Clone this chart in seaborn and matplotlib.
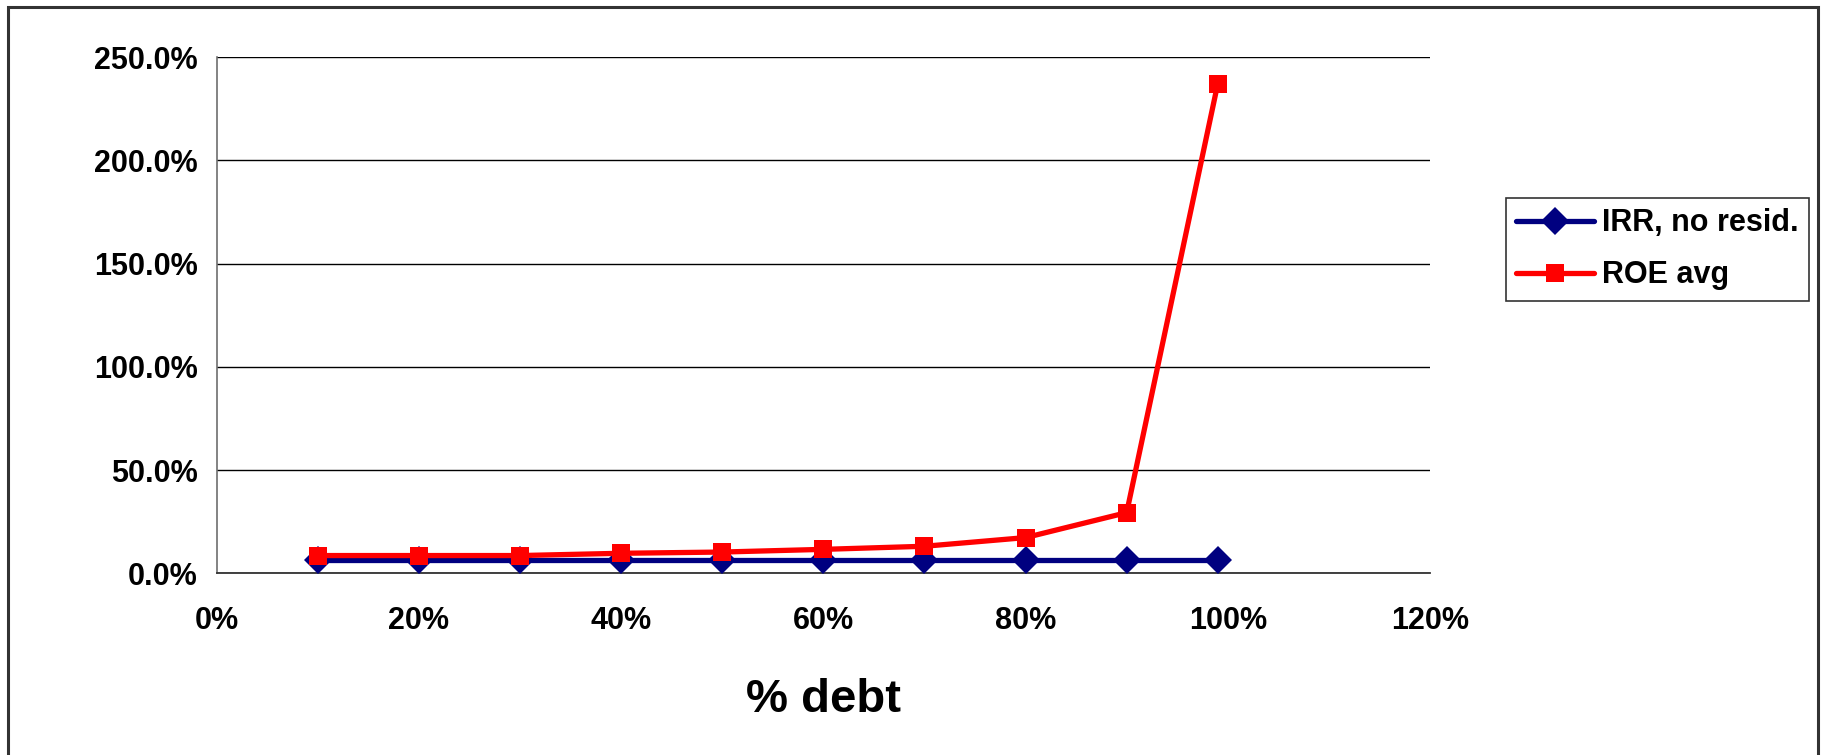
import matplotlib
matplotlib.use("Agg")
import matplotlib.pyplot as plt
from matplotlib.patches import Rectangle
from matplotlib.ticker import PercentFormatter, MultipleLocator
import pandas as pd
import seaborn as sns

# Share of debt financing (%) and the resulting returns (%)
debt_pct = [10, 20, 30, 40, 50, 60, 70, 80, 90, 99]
irr_no_resid = [6.6, 6.6, 6.6, 6.6, 6.6, 6.6, 6.6, 6.6, 6.6, 6.6]
roe_avg = [8.6, 8.6, 8.6, 9.7, 10.3, 11.6, 13.1, 17.3, 29.4, 237.0]

series_names = ["IRR, no resid.", "ROE avg"]
series_colors = ["#000080", "#FF0000"]
x_label = "% debt"

sns.set_style("white")
plt.rcParams["font.family"] = ["Liberation Sans", "DejaVu Sans"]
plt.rcParams["font.weight"] = "bold"
plt.rcParams["text.color"] = "black"
plt.rcParams["axes.labelcolor"] = "black"
plt.rcParams["xtick.labelcolor"] = "black"
plt.rcParams["ytick.labelcolor"] = "black"

W, H = 1822, 755
fig = plt.figure(figsize=(W / 100, H / 100), dpi=100)
left, right, top, bottom = 216.7, 1430.0, 57.3, 573.3
ax = fig.add_axes([left / W, 1 - bottom / H, (right - left) / W, (bottom - top) / H])

df = pd.DataFrame({"debt": debt_pct, "irr": irr_no_resid, "roe": roe_avg})

sns.lineplot(data=df, x="debt", y="irr", ax=ax, color=series_colors[0],
             linewidth=3.8, marker="D", markersize=14.5,
             markeredgecolor=series_colors[0], markeredgewidth=0,
             label=series_names[0], zorder=3)
sns.lineplot(data=df, x="debt", y="roe", ax=ax, color=series_colors[1],
             linewidth=3.8, marker="s", markersize=12.5,
             markeredgecolor=series_colors[1], markeredgewidth=0,
             label=series_names[1], zorder=4)

ax.set_xlim(0, 120)
ax.set_ylim(0, 250)
ax.xaxis.set_major_locator(MultipleLocator(20))
ax.yaxis.set_major_locator(MultipleLocator(50))
ax.xaxis.set_major_formatter(PercentFormatter(xmax=100, decimals=0))
ax.yaxis.set_major_formatter(PercentFormatter(xmax=100, decimals=1))

ax.yaxis.grid(True, color="black", linewidth=1.0)
ax.xaxis.grid(False)
ax.set_axisbelow(True)

for side in ("top", "right"):
    ax.spines[side].set_visible(False)
ax.spines["left"].set_color("#6e6e6e")
ax.spines["left"].set_linewidth(1.2)
ax.spines["bottom"].set_color("#333333")
ax.spines["bottom"].set_linewidth(1.3)

ax.tick_params(axis="x", direction="out", length=6.5, width=1.2, color="#6e6e6e",
               labelsize=22, pad=17)
ax.tick_params(axis="y", direction="out", length=6.5, width=1.2, color="#6e6e6e",
               labelsize=22, pad=7)
for lbl in ax.get_xticklabels() + ax.get_yticklabels():
    lbl.set_fontweight("bold")
    lbl.set_color("black")

ax.set_ylabel("")
ax.set_xlabel(x_label, fontsize=34, fontweight="bold", va="center", color="black")
ax.xaxis.set_label_coords(0.5, (bottom - 700) / (bottom - top))

leg = ax.legend(loc="upper left", bbox_to_anchor=(1505.7 / W, 1 - 197.7 / H),
                bbox_transform=fig.transFigure, frameon=True, fancybox=False,
                edgecolor="black", borderaxespad=0, handlelength=2.55,
                handletextpad=0.25, borderpad=0.35, labelspacing=0.72,
                prop={"size": 22, "weight": "bold"})
leg.get_frame().set_linewidth(1.2)
for t in leg.get_texts():
    t.set_color("black")

# Outer chart border
fig.add_artist(Rectangle((8 / W, -0.05), (1818 - 8) / W, (H - 7) / H + 0.05,
                         transform=fig.transFigure, fill=False,
                         edgecolor="#333333", linewidth=2.2, clip_on=False))

fig.savefig("out.png", dpi=100, facecolor="white")
